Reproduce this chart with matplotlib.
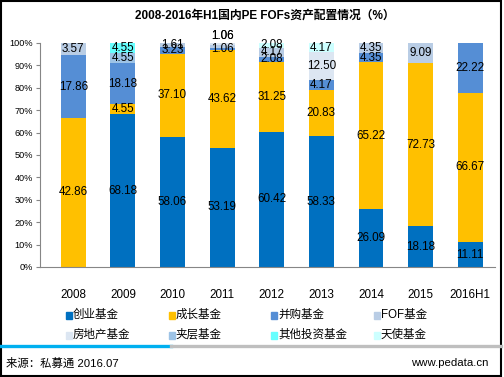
import numpy as np
import matplotlib
matplotlib.use("Agg")
import matplotlib.pyplot as plt
from matplotlib.patches import Rectangle
from matplotlib.lines import Line2D

plt.rcParams['font.family'] = ['Liberation Sans', 'Noto Sans CJK SC', 'DejaVu Sans']

# data (raw values, chart is 100% stacked)
years = ['2008', '2009', '2010', '2011', '2012', '2013', '2014', '2015', '2016H1']
fund_types = ['创业基金', '成长基金', '并购基金', 'FOF基金',
              '房地产基金', '夹层基金', '其他投资基金', '天使基金']
venture = [0, 68.18, 58.06, 53.19, 60.42, 58.33, 26.09, 18.18, 11.11]
growth = [42.86, 4.55, 37.10, 43.62, 31.25, 20.83, 65.22, 72.73, 66.67]
buyout = [17.86, 18.18, 3.23, 1.06, 2.08, 4.17, 4.35, 0, 22.22]
fof = [3.57, 0, 1.61, 1.06, 4.17, 0, 4.35, 9.09, 0]
real_estate = [0, 0, 0, 1.06, 0, 12.50, 0, 0, 0]
mezzanine = [0, 4.55, 0, 0, 0, 0, 0, 0, 0]
other = [0, 4.55, 0, 0, 0, 0, 0, 0, 0]
angel = [0, 0, 0, 0, 2.08, 4.17, 0, 0, 0]

colors = ['#0070C0', '#FFC000', '#558ED5', '#B9CDE5',
          '#DCE6F2', '#9DC3E6', '#66FFFF', '#CCFFFF']

series = np.array([venture, growth, buyout, fof, real_estate, mezzanine, other, angel])
totals = series.sum(axis=0)
shares = series / totals * 100

W, H = 504, 377
fig = plt.figure(figsize=(W / 100, H / 100), dpi=100)
ax = fig.add_axes([40 / W, 110 / H, 455 / W, 224 / H])

x = np.arange(len(years))
bottom = np.zeros(len(years))
for i, name in enumerate(fund_types):
    ax.bar(x, shares[i], 0.5, bottom=bottom, color=colors[i], linewidth=0)
    for j in range(len(years)):
        if series[i, j] > 0:
            yc = bottom[j] + shares[i, j] / 2
            # 2011: the two thin top labels sit above the bar in the original
            if j == 3 and i >= 3:
                yc = 103.3
            ax.text(x[j], yc, '%.2f' % series[i, j], ha='center', va='center',
                    fontsize=8.4, color='black', clip_on=False)
    bottom += shares[i]

ax.set_xlim(-0.67, 8.5)
ax.set_ylim(0, 100)
ax.set_yticks(np.arange(0, 101, 10))
ax.set_yticklabels(['%d%%' % v for v in range(0, 101, 10)], fontsize=6.6)
ax.set_xticks(x)
ax.set_xticklabels(years, fontsize=8.4)
ax.tick_params(axis='x', length=0, pad=16)
ax.tick_params(axis='y', length=3, width=0.8, color='#868686', pad=2)
for s in ['top', 'right']:
    ax.spines[s].set_visible(False)
for s in ['left', 'bottom']:
    ax.spines[s].set_color('#868686')
    ax.spines[s].set_linewidth(0.8)

fig.text(265 / W, 1 - 16 / H, '2008-2016年H1国内PE FOFs资产配置情况（%）',
         ha='center', va='center', fontsize=8.5, fontweight='bold')

# legend, 4 columns x 2 rows
for k, name in enumerate(fund_types):
    col, row = k % 4, k // 4
    lx = 66 + col * 102.5
    ly = 315 + row * 20
    fig.patches.append(Rectangle((lx / W, 1 - (ly + 3.5) / H), 6 / W, 7 / H,
                                 transform=fig.transFigure, color=colors[k]))
    fig.text((lx + 7) / W, 1 - ly / H, name, ha='left', va='center', fontsize=8.3)

# footer bar
fig.add_artist(Line2D([0, 171 / W], [1 - 346 / H] * 2, color='#00B0F0', lw=2.4,
                      transform=fig.transFigure))
fig.add_artist(Line2D([171 / W, 501 / W], [1 - 346 / H] * 2, color='#BFBFBF', lw=2.4,
                      transform=fig.transFigure))
fig.text(6 / W, 1 - 363 / H, '来源：私募通 2016.07', ha='left', va='center', fontsize=8.2)
fig.text(488 / W, 1 - 363 / H, 'www.pedata.cn', ha='right', va='center', fontsize=8.2)

# outer frame
fig.patches.append(Rectangle((1 / W, 1 / H), 500 / W, 375 / H, fill=False,
                             edgecolor='black', lw=1.5, transform=fig.transFigure))

fig.savefig('out.png', dpi=100)
